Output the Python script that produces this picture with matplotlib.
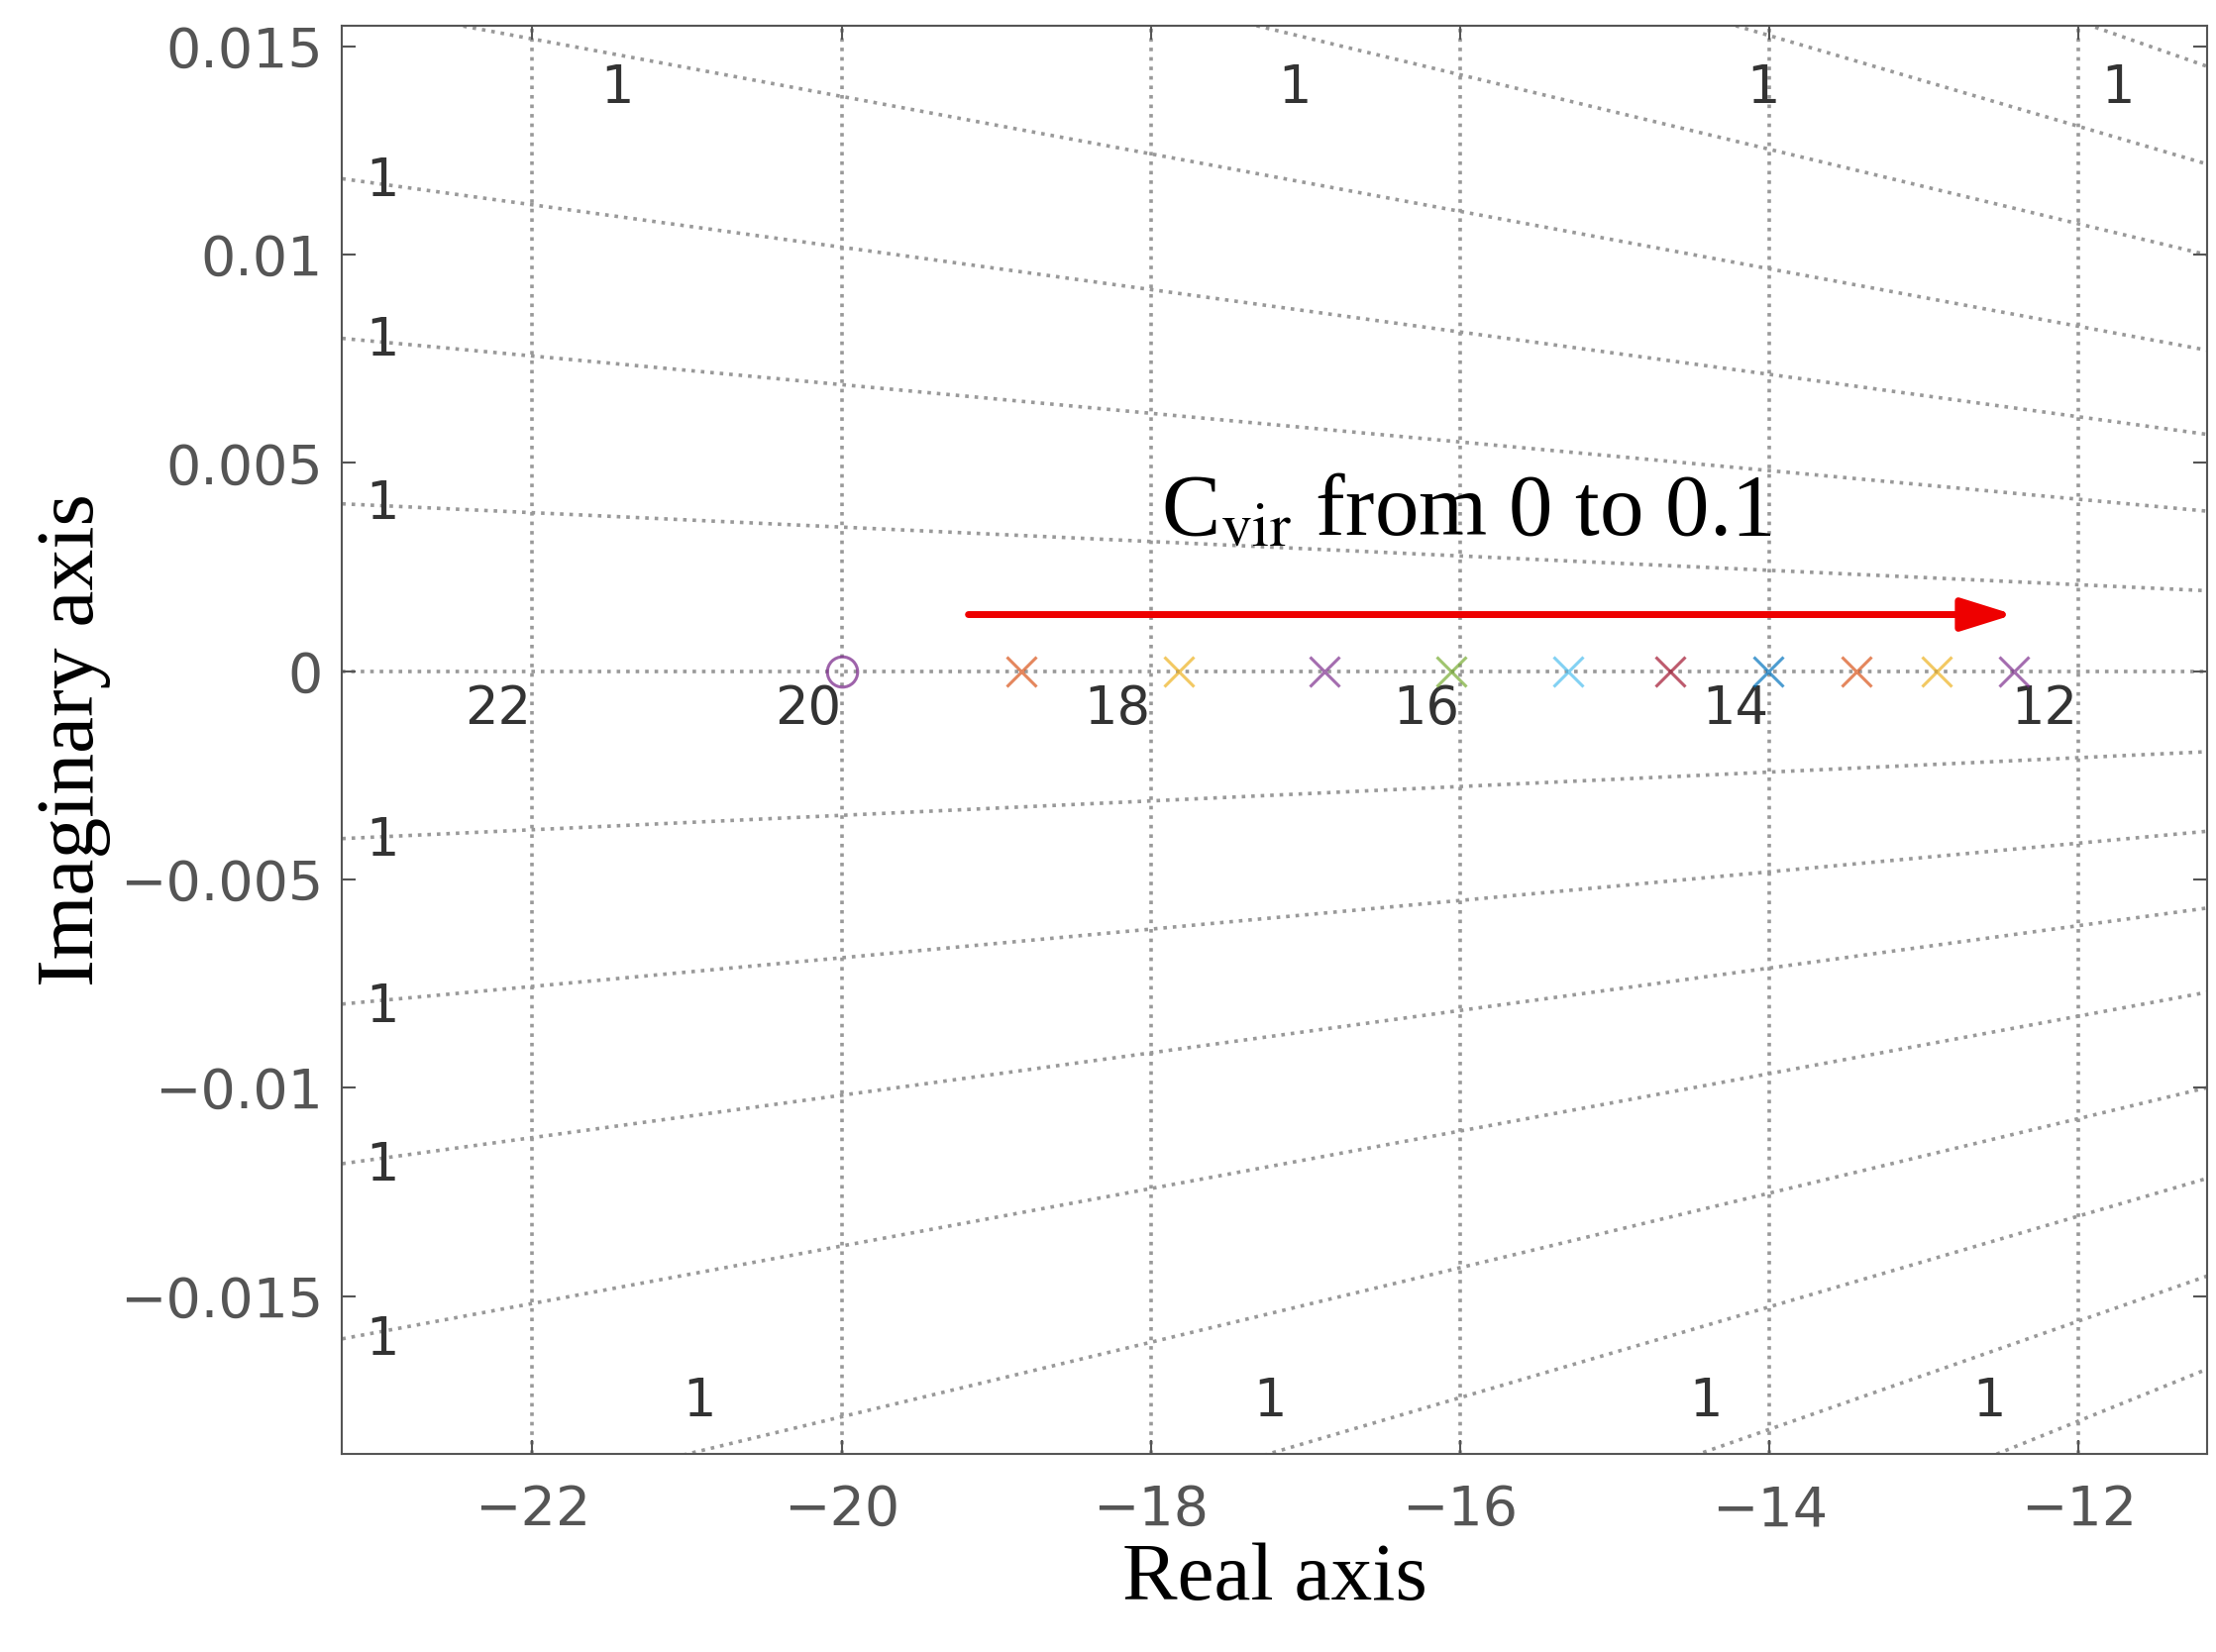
import matplotlib
matplotlib.use("Agg")
import matplotlib.pyplot as plt
import numpy as np

pole_re = [-18.84, -17.82, -16.88, -16.06, -15.30, -14.64, -14.01, -13.44, -12.92, -12.42]
pole_colors = ['#d95319', '#edb120', '#7e2f8e', '#77ac30', '#4dbeee', '#a2142f',
               '#0072bd', '#d95319', '#edb120', '#7e2f8e']
zero_re = [-20.0]
freq_vals = [22, 20, 18, 16, 14, 12]
ray_slopes = [1.73e-4, 3.44e-4, 5.09e-4, 6.9e-4, 8.95e-4, 10.9e-4, 13.0e-4, 15.0e-4, 17.2e-4]
left_label_y = [0.01177, 0.00793, 0.00401, -0.00408, -0.00806, -0.01187, -0.01605]
top_label_x = [-21.45, -17.07, -14.04, -11.75]
bottom_label_x = [-20.92, -17.23, -14.41, -12.58]
xticks = [-22, -20, -18, -16, -14, -12]
yticks = [-0.015, -0.01, -0.005, 0, 0.005, 0.01, 0.015]
ytick_labels = ['\u22120.015', '\u22120.01', '\u22120.005', '0', '0.005', '0.01', '0.015']

xmin, xmax, ymin, ymax = -23.23, -11.17, -0.01878, 0.0155

fig = plt.figure(figsize=(22.37, 16.68), dpi=100)
ax = fig.add_axes([0.1544, 0.1202, 0.8416, 0.8643])
ax.set_xlim(xmin, xmax)
ax.set_ylim(ymin, ymax)

gc = '#999999'
xs = np.linspace(xmin, 0, 200)
for s in ray_slopes:
    ax.plot(xs, -s * xs, ls=':', color=gc, lw=2.6, zorder=1)
    ax.plot(xs, s * xs, ls=':', color=gc, lw=2.6, zorder=1)
ax.axhline(0, ls=':', color=gc, lw=2.6, zorder=1)
for f in freq_vals:
    ax.axvline(-f, ls=':', color=gc, lw=2.6, zorder=1)
    ax.text(-f - 0.22, -0.00092, str(f), fontsize=38, color='#333333', ha='center', va='center')
for y in left_label_y:
    ax.text(-22.97, y, '1', fontsize=38, color='#333333', ha='center', va='center')
for x in top_label_x:
    ax.text(x, 0.0140, '1', fontsize=38, color='#333333', ha='center', va='center')
for x in bottom_label_x:
    ax.text(x, -0.01752, '1', fontsize=38, color='#333333', ha='center', va='center')

for x, c in zip(pole_re, pole_colors):
    ax.plot([x], [0], marker='x', ms=22, mew=2.2, color=c, alpha=0.7, ls='none', zorder=3)
ax.plot(zero_re, [0], marker='o', ms=22, mfc='none', mew=2.2, color='#7e2f8e', alpha=0.75, ls='none', zorder=3)

ax.annotate('', xy=(-12.42, 0.00136), xytext=(-19.18, 0.00136),
            arrowprops=dict(arrowstyle='-|>,head_length=3.2,head_width=1.0', color='#ee0000', lw=5,
                            shrinkA=0, shrinkB=0), zorder=4)
ax.text(-15.96, 0.00378, r'C$_{\rm vir}$ from 0 to 0.1', fontsize=64, family='Liberation Serif',
        ha='center', va='center', math_fontfamily='stix')

ax.set_xticks(xticks)
ax.set_xticklabels(['\u2212%d' % abs(v) for v in xticks])
ax.set_yticks(yticks)
ax.set_yticklabels(ytick_labels)
ax.tick_params(labelsize=40, labelcolor='#555555', color='#555555', length=10, width=1.5,
               direction='in', top=True, right=True, pad=14)
ax.tick_params(axis='x', pad=22)
for sp in ax.spines.values():
    sp.set_color('#555555'); sp.set_linewidth(1.5)
ax.set_xlabel('Real axis', fontsize=60, family='Liberation Serif', labelpad=4)
ax.set_ylabel('Imaginary axis', fontsize=60, family='Liberation Serif', labelpad=6)
fig.savefig('out.png', dpi=100)
